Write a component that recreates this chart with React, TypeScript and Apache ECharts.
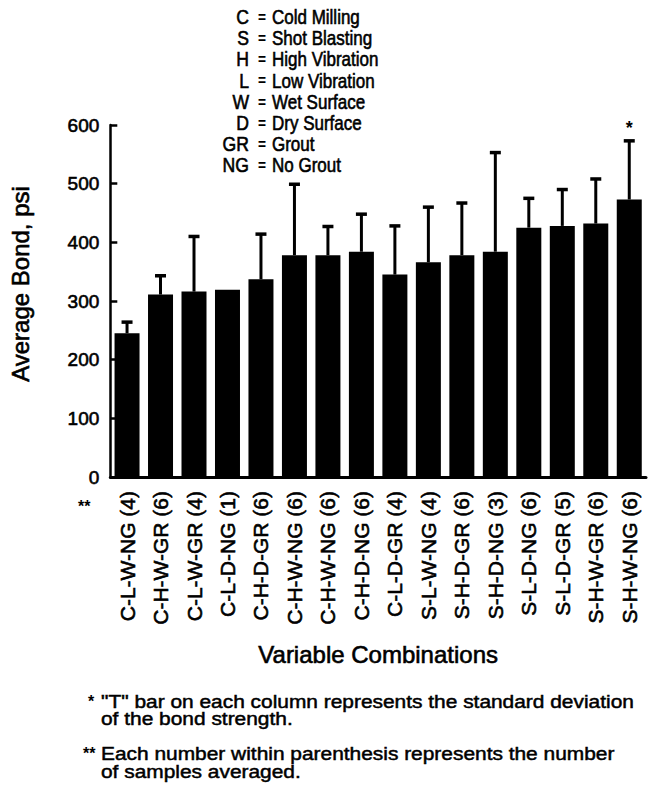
import React, { useEffect, useRef } from "react";
import * as echarts from "echarts";

const categories = [
  "C-L-W-NG (4)", "C-H-W-GR (6)", "C-L-W-GR (4)", "C-L-D-NG (1)",
  "C-H-D-GR (6)", "C-H-W-NG (6)", "C-H-W-NG (6)", "C-H-D-NG (6)",
  "C-L-D-GR (4)", "S-L-W-NG (4)", "S-H-D-GR (6)", "S-H-D-NG (3)",
  "S-L-D-NG (6)", "S-L-D-GR (5)", "S-H-W-GR (6)", "S-H-W-NG (6)",
];
const meanBond = [245, 311, 316, 319, 337, 378, 378, 384, 345, 366, 378, 384, 425, 428, 432, 473];
const stdDev: (number | null)[] = [19, 32, 94, null, 77, 121, 49, 64, 83, 94, 89, 169, 50, 62, 76, 100];
const barNotes = ["", "", "", "", "", "", "", "", "", "", "", "", "", "", "", "*"];
const yTicks = [0, 100, 200, 300, 400, 500, 600];

const legendCodes = ["C", "S", "H", "L", "W", "D", "GR", "NG"];
const legendMeanings = [
  "Cold Milling", "Shot Blasting", "High Vibration", "Low Vibration",
  "Wet Surface", "Dry Surface", "Grout", "No Grout",
];
const footnotes = [
  { mark: "*", lines: ["\"T\" bar on each column represents the standard deviation", "of the bond strength."] },
  { mark: "**", lines: ["Each number within parenthesis represents the number", "of samples averaged."] },
];

const FONT = "'Liberation Sans', Arial, Helvetica, sans-serif";
const INK = { textBorderColor: "#000", textBorderWidth: 0.6 };

export default function App() {
  const ref = useRef<HTMLDivElement>(null);
  useEffect(() => {
    if (!ref.current) return;
    const chart = echarts.init(ref.current, undefined, { renderer: "svg" });

    const graphics: any[] = [];
    // legend of abbreviations
    legendCodes.forEach((code, i) => {
      const y = 17 + i * 21.2;
      graphics.push({
        type: "text", x: 249, y, scaleX: 0.88,
        style: { text: code, font: `20px ${FONT}`, fill: "#000", stroke: "#000", lineWidth: 0.6, align: "right", verticalAlign: "middle" },
      });
      graphics.push({
        type: "text", x: 262, y, scaleX: 0.86,
        style: { text: "=", font: `bold 16px ${FONT}`, fill: "#000", align: "center", verticalAlign: "middle" },
      });
      graphics.push({
        type: "text", x: 272, y, scaleX: 0.85,
        style: { text: legendMeanings[i], font: `20px ${FONT}`, fill: "#000", stroke: "#000", lineWidth: 0.6, align: "left", verticalAlign: "middle" },
      });
    });
    // "**" marker for the sample counts
    graphics.push({
      type: "text", x: 78, y: 498,
      style: { text: "**", font: `bold 16px ${FONT}`, fill: "#000", align: "left", verticalAlign: "top" },
    });
    // footnotes
    const noteY = [[701, 718], [753, 771]];
    footnotes.forEach((fn, k) => {
      graphics.push({
        type: "text", x: k === 0 ? 88 : 83, y: noteY[k][0],
        style: { text: fn.mark, font: `bold 16px ${FONT}`, fill: "#000", align: "left", verticalAlign: "middle" },
      });
      fn.lines.forEach((ln, j) => {
        graphics.push({
          type: "text", x: 101, y: noteY[k][j], scaleX: 1.1,
          style: { text: ln, font: `19px ${FONT}`, fill: "#000", stroke: "#000", lineWidth: 0.5, align: "left", verticalAlign: "middle" },
        });
      });
    });

    chart.setOption({
      animation: false,
      backgroundColor: "#fff",
      textStyle: { fontFamily: FONT, color: "#000" },
      grid: { left: 108, right: 16, top: 125, bottom: 317, containLabel: false },
      xAxis: {
        type: "category",
        data: categories,
        axisLine: { show: true, lineStyle: { color: "#000", width: 3 } },
        axisTick: { show: false },
        axisLabel: { rotate: 90, fontSize: 21, color: "#000", margin: 14, interval: 0, fontFamily: FONT, ...INK },
        name: "Variable Combinations",
        nameLocation: "middle",
        nameGap: 165,
        nameTextStyle: { fontSize: 24, color: "#000", fontFamily: FONT, ...INK },
      },
      yAxis: {
        type: "value",
        min: yTicks[0],
        max: yTicks[yTicks.length - 1],
        interval: 100,
        splitLine: { show: false },
        axisLine: { show: true, lineStyle: { color: "#000", width: 2.5 } },
        axisTick: { show: true, inside: true, length: 7, lineStyle: { color: "#000", width: 2.5 } },
        axisLabel: { fontSize: 19, color: "#000", margin: 11, fontFamily: FONT, ...INK },
        name: "Average Bond, psi",
        nameLocation: "middle",
        nameRotate: 90,
        nameGap: 78,
        nameTextStyle: { fontSize: 24, color: "#000", fontFamily: FONT, padding: [0, 0, 0, 34], ...INK },
      },
      series: [
        {
          type: "bar",
          data: meanBond,
          barWidth: 25,
          itemStyle: { color: "#000" },
          z: 2,
        },
        {
          type: "custom",
          data: meanBond.map((v, i) => [i, v, stdDev[i] == null ? 0 : stdDev[i]]),
          z: 3,
          renderItem: (params: any, api: any) => {
            const i = api.value(0);
            const mean = api.value(1);
            const sd = api.value(2);
            const children: any[] = [];
            const base = api.coord([i, mean]);
            const top = api.coord([i, mean + sd]);
            if (sd > 0) {
              children.push({
                type: "line",
                shape: { x1: base[0], y1: base[1], x2: top[0], y2: top[1] },
                style: { stroke: "#000", lineWidth: 3 },
              });
              children.push({
                type: "line",
                shape: { x1: top[0] - 5.5, y1: top[1], x2: top[0] + 5.5, y2: top[1] },
                style: { stroke: "#000", lineWidth: 3.5 },
              });
            }
            const note = barNotes[params.dataIndex];
            if (note) {
              children.push({
                type: "text",
                x: top[0],
                y: top[1] - 4,
                style: { text: note, font: `bold 18px ${FONT}`, fill: "#000", align: "center", verticalAlign: "bottom" },
              });
            }
            return { type: "group", children };
          },
        },
      ],
      graphic: graphics,
    });
    return () => chart.dispose();
  }, []);
  return (
    <div
      ref={ref}
      style={{ position: "fixed", left: 0, top: 0, width: 662, height: 794, background: "#fff" }}
    />
  );
}
